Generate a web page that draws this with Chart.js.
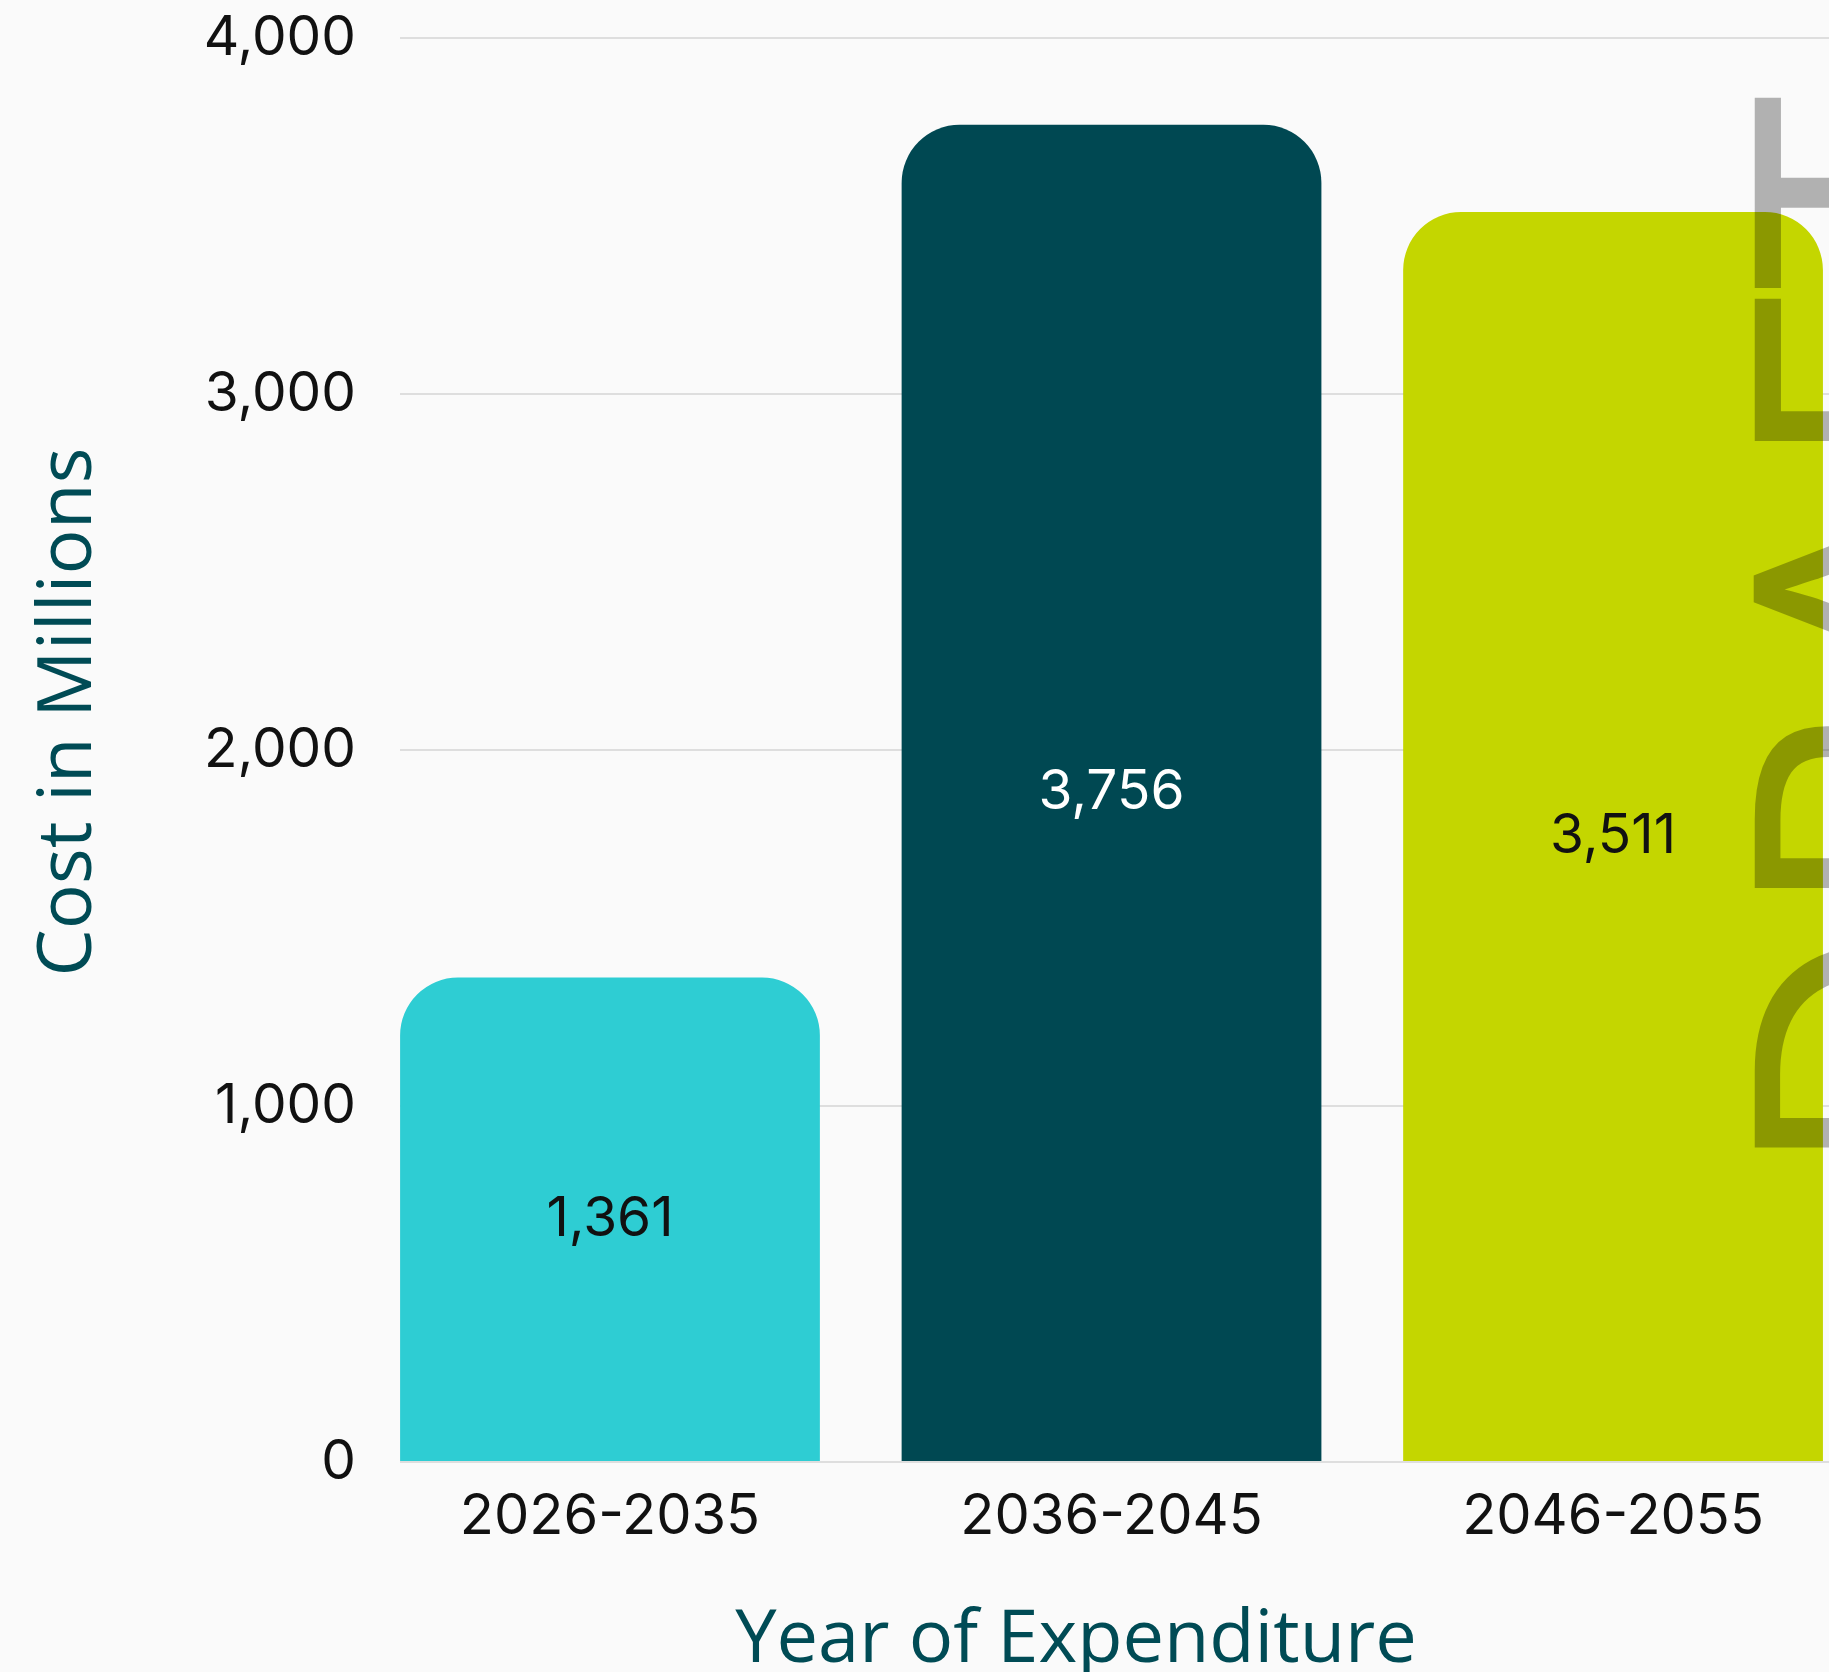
<!DOCTYPE html>
<html>
<head>
<meta charset="utf-8">
<title>Cost in Millions by Year of Expenditure</title>
<script src="https://cdn.jsdelivr.net/npm/chart.js@4.4.1/dist/chart.umd.min.js"></script>
<style>
  html, body { margin: 0; padding: 0; background: #fafafa; overflow: hidden; }
  #wrap { width: 1829px; height: 1672px; }
</style>
</head>
<body>
<div id="wrap"><canvas id="chart" width="1829" height="1672"></canvas></div>
<script>
// values
const categories = ['2026-2035', '2036-2045', '2046-2055'];
const costMillions = [1361, 3756, 3511];
const barColors = ['#2ECDD3', '#004852', '#C4D600'];
const labelColors = ['#111111', '#ffffff', '#111111'];
const yTicks = [0, 1000, 2000, 3000, 4000];

const TEAL = '#004B55';
const fmt = v => Number(v).toLocaleString('en-US');

// value labels in the middle of each bar
const barLabels = {
  id: 'barLabels',
  afterDatasetsDraw(chart) {
    const ctx = chart.ctx;
    const meta = chart.getDatasetMeta(0);
    ctx.save();
    ctx.font = '55px Inter';
    ctx.textAlign = 'center';
    ctx.textBaseline = 'middle';
    meta.data.forEach((bar, i) => {
      ctx.fillStyle = labelColors[i];
      ctx.fillText(fmt(costMillions[i]), bar.x, (bar.y + bar.base) / 2);
    });
    ctx.restore();
  }
};

// axis titles, placed like the original
const axisTitles = {
  id: 'axisTitles',
  afterDraw(chart) {
    const ctx = chart.ctx;
    ctx.save();
    ctx.fillStyle = TEAL;
    ctx.textAlign = 'center';
    ctx.textBaseline = 'alphabetic';
    ctx.font = '74px "Open Sans"';
    ctx.fillText('Year of Expenditure', 1076, 1662);
    ctx.font = '75px "Open Sans"';
    ctx.translate(91, 712);
    ctx.rotate(-Math.PI / 2);
    ctx.fillText('Cost in Millions', 0, 0);
    ctx.restore();
  }
};

// "DRAFT" stamp on the right edge, partly outside the canvas
const draftMark = {
  id: 'draftMark',
  afterDraw(chart) {
    const ctx = chart.ctx;
    const text = 'DRAFT';
    ctx.save();
    ctx.font = '100px "Open Sans"';
    let m = ctx.measureText(text);
    const ink = m.actualBoundingBoxLeft + m.actualBoundingBoxRight;
    const size = 100 * 1056 / ink;
    ctx.font = size + 'px "Open Sans"';
    m = ctx.measureText(text);
    // ink from y=93 (top) to y=1149 (bottom) after rotation
    ctx.translate(1753 + m.actualBoundingBoxAscent, 1149);
    ctx.rotate(-Math.PI / 2);
    ctx.fillStyle = 'rgba(0,0,0,0.29)';
    ctx.textAlign = 'left';
    ctx.textBaseline = 'alphabetic';
    ctx.fillText(text, m.actualBoundingBoxLeft, 0);
    ctx.restore();
  }
};

new Chart(document.getElementById('chart'), {
  type: 'bar',
  data: {
    datasets: [{
      data: costMillions.map((v, i) => ({ x: i, y: v })),
      backgroundColor: barColors,
      borderRadius: 58,
      borderSkipped: 'start',
      categoryPercentage: 1,
      barPercentage: 0.837
    }]
  },
  options: {
    responsive: false,
    animation: false,
    devicePixelRatio: 1,
    layout: { padding: { top: 38, right: 0, left: 0, bottom: 0 } },
    plugins: { legend: { display: false }, tooltip: { enabled: false } },
    scales: {
      x: {
        type: 'linear',
        offset: false,
        min: -0.4187,
        max: 2.4306,
        grid: { display: false, offset: false },
        border: { display: false },
        afterFit(scale) { scale.height = 210; scale.paddingLeft = 0; scale.paddingRight = 0; },
        ticks: {
          stepSize: 1,
          includeBounds: false,
          autoSkip: false,
          maxRotation: 0,
          padding: 14,
          color: '#111111',
          font: { family: 'Inter', size: 56 },
          callback: v => categories[Math.round(v)] ?? ''
        }
      },
      y: {
        min: yTicks[0],
        max: yTicks[yTicks.length - 1],
        afterFit(scale) { scale.width = 400; scale.paddingTop = 0; scale.paddingBottom = 0; },
        afterBuildTicks(scale) { scale.ticks = yTicks.map(v => ({ value: v })); },
        grid: { color: '#dedede', lineWidth: 2, drawTicks: false },
        border: { display: false },
        ticks: {
          padding: 44,
          color: '#111111',
          font: { family: 'Inter', size: 55 },
          callback: v => fmt(v)
        }
      }
    }
  },
  plugins: [barLabels, axisTitles, draftMark]
});
</script>
</body>
</html>
